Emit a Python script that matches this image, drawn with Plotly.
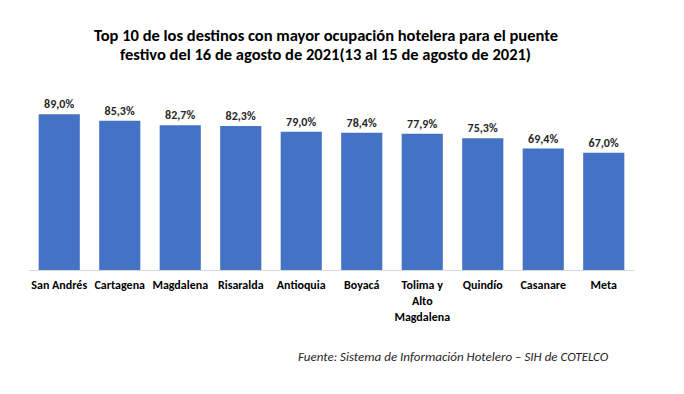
import plotly.graph_objects as go

categories = ["San Andrés", "Cartagena", "Magdalena", "Risaralda", "Antioquia",
              "Boyacá", "Tolima y<br>Alto<br>Magdalena", "Quindío", "Casanare", "Meta"]
values = [89.0, 85.3, 82.7, 82.3, 79.0, 78.4, 77.9, 75.3, 69.4, 67.0]
labels = [f"{v:.1f}%".replace(".", ",") for v in values]
title_lines = ["Top 10 de los destinos con mayor ocupación hotelera para el puente",
               "festivo del 16 de agosto de 2021(13 al 15 de agosto de 2021)"]
source = "Fuente: Sistema de Información Hotelero – SIH de COTELCO"

FONT = "Carlito, Liberation Sans Narrow, Liberation Sans, Arial"
W, H = 676, 386
L, R, T, B = 21, 50, 87, 124
PW, PH = W - L - R, H - T - B


def px(x):
    return (x - L) / PW


def py(y):
    return (T + PH - y) / PH


fig = go.Figure(go.Bar(
    x=categories, y=values, text=labels, textposition="outside",
    marker=dict(color="#4472C4", line=dict(width=0)),
    textfont=dict(family=FONT, size=12, color="#262626", weight="bold"),
    cliponaxis=False,
))

annotations = [
    dict(text=f"<b>{title_lines[0]}</b>", x=px(318), y=py(27)),
    dict(text=f"<b>{title_lines[1]}</b>", x=px(317), y=py(46)),
]
for a in annotations:
    a.update(xref="paper", yref="paper", xanchor="center", yanchor="middle",
             showarrow=False, font=dict(family=FONT, size=16.5, color="black"))
annotations.append(dict(
    text=f"<i>{source}</i>",
    xref="paper", yref="paper", x=px(603), y=py(348),
    xanchor="right", yanchor="middle", showarrow=False,
    font=dict(family=FONT, size=13, color="#262626"),
))

fig.update_layout(
    width=W, height=H,
    margin=dict(l=L, r=R, t=T, b=B, autoexpand=False),
    paper_bgcolor="white", plot_bgcolor="white",
    bargap=0.32,
    showlegend=False,
    font=dict(family=FONT),
    annotations=annotations,
)
fig.update_xaxes(
    showline=True, linecolor="#D9D9D9", linewidth=1, ticks="",
    tickfont=dict(family=FONT, size=12, color="black", weight="bold"),
    tickangle=0, automargin=False, ticklabelstandoff=4,
)
fig.update_yaxes(range=[0, 100], visible=False, showgrid=False, automargin=False)

fig.write_html("out.html")
